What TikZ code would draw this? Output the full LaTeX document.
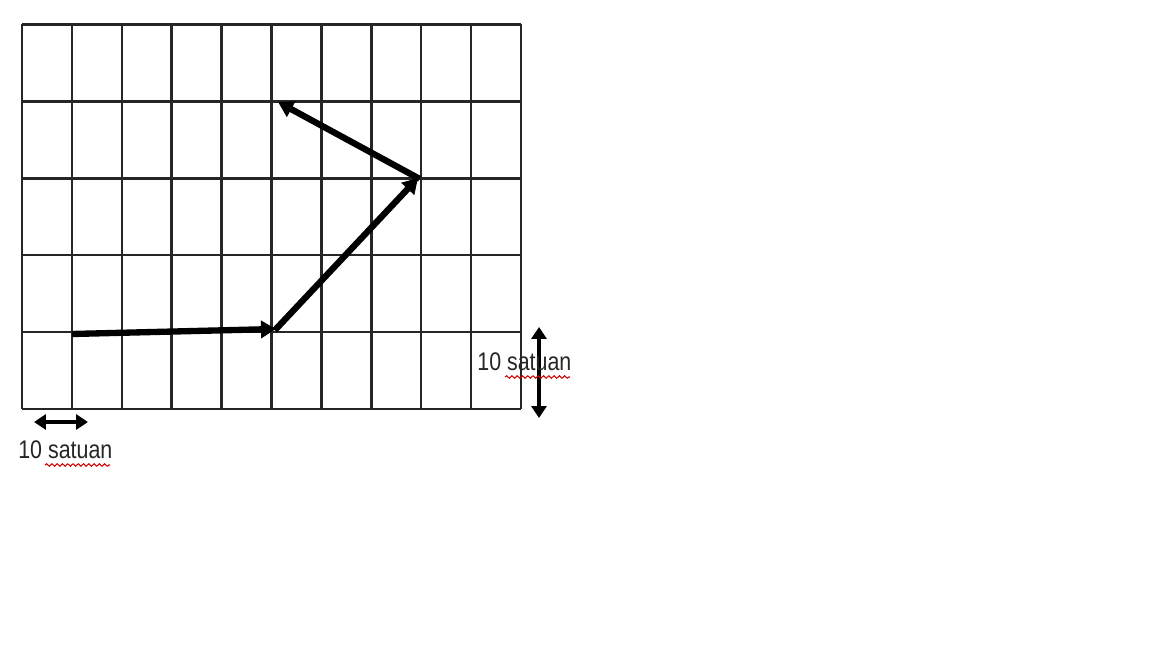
\documentclass[tikz,border=0pt]{standalone}
\usepackage{fontspec}
\setmainfont{Liberation Sans}[FakeStretch=0.84]
\usetikzlibrary{arrows.meta,decorations.pathmorphing}
\begin{document}
\begin{tikzpicture}[x=0.02cm,y=-0.02cm,
  gridline/.style={line width=1.4pt,black!85},
  vec/.style={line width=3.6pt,-{Triangle[length=0.3cm,width=0.34cm]}},
  scalebar/.style={line width=2pt,{Triangle[length=0.24cm,width=0.3cm]}-{Triangle[length=0.24cm,width=0.3cm]}},
  lbl/.style={font=\fontsize{14.5}{16}\selectfont,inner sep=0pt,text=black!85},
  wavy/.style={red!80!black,line width=0.6pt,decorate,decoration={snake,amplitude=0.7pt,segment length=3pt}}]
\useasboundingbox (0,0) rectangle (1152,648);
% grid
\foreach \i in {0,...,10} {\draw[gridline] ({22+49.9*\i},24.5) -- ({22+49.9*\i},409);}
\foreach \j in {0,...,5} {\draw[gridline] (22,{24.5+76.9*\j}) -- (521,{24.5+76.9*\j});}
% vector points
\coordinate (p0) at (72,334);
\coordinate (p1) at (276,329);
\coordinate (p2) at (418,178);
\coordinate (p3) at (278,102);
\draw[vec] (p0) -- (p1);
\draw[vec,shorten <=-1pt] (p1) -- (p2);
\draw[vec,shorten <=-1pt] (p2) -- (p3);
% scale bars
\coordinate (h0) at (34,422);
\coordinate (h1) at (88,422);
\draw[scalebar] (h0) -- (h1);
\coordinate (v0) at (539,327);
\coordinate (v1) at (539,418);
\draw[scalebar] (v0) -- (v1);
% labels
\node[lbl,anchor=west] (lb) at (18,450) {10 satuan};
\node[lbl,anchor=west] (lr) at (477,362) {10 satuan};
\draw[wavy] (45,465) -- (110,465);
\draw[wavy] (505,377) -- (570,377);
\end{tikzpicture}
\end{document}
